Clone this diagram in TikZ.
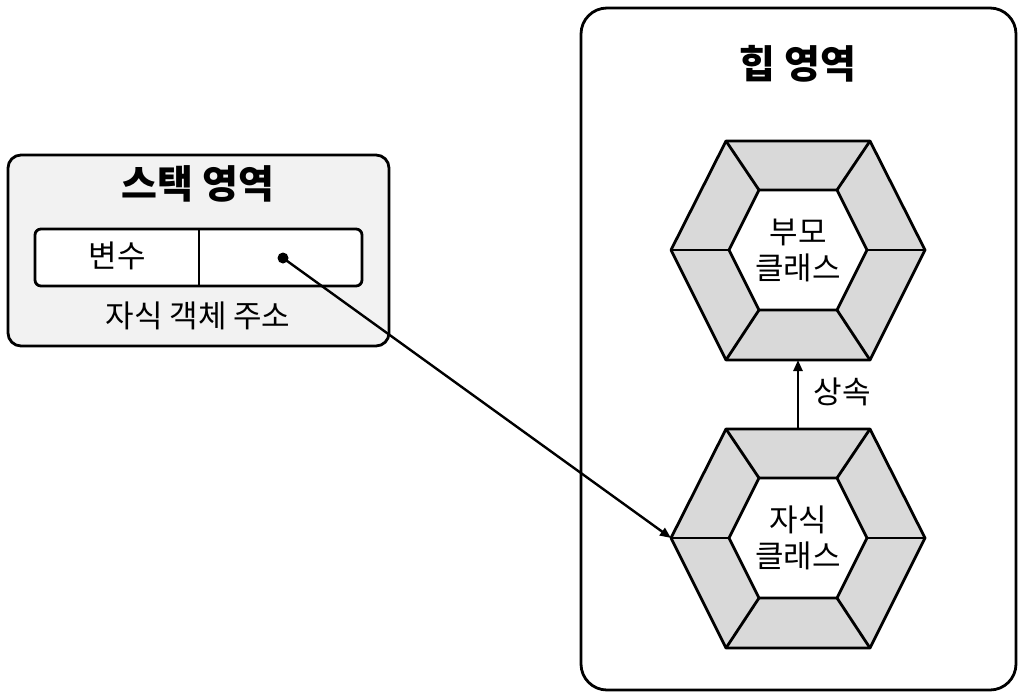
\documentclass[tikz,border=0pt]{standalone}
\usepackage{fontspec}
\setmainfont{Noto Sans CJK KR}
\usetikzlibrary{arrows.meta}
\definecolor{stackfill}{HTML}{F2F2F2}
\definecolor{hexgray}{HTML}{D9D9D9}
\tikzset{
  panel/.style={draw=black, line width=2.8pt},
  hexline/.style={draw=black, line width=2.8pt, line join=round},
  lbl/.style={font=\fontsize{31}{36}\selectfont, align=center},
  ttl/.style={font=\bfseries\fontsize{39}{44}\selectfont},
  conn/.style={line width=2.4pt, -{Triangle[length=11pt,width=9pt]}}
}
\newcommand{\hexclass}[4]{%
  % #1 name, #2 cx, #3 cy, #4 text
  \begin{scope}[shift={(#2,#3)}]
    \coordinate (#1-o1) at (-72,-109);
    \coordinate (#1-o2) at (72,-109);
    \coordinate (#1-o3) at (127,0);
    \coordinate (#1-o4) at (72,110);
    \coordinate (#1-o5) at (-72,110);
    \coordinate (#1-o6) at (-127,0);
    \coordinate (#1-i1) at (-39,-60);
    \coordinate (#1-i2) at (39,-60);
    \coordinate (#1-i3) at (69,0);
    \coordinate (#1-i4) at (39,60);
    \coordinate (#1-i5) at (-39,60);
    \coordinate (#1-i6) at (-69,0);
    \fill[hexgray] (#1-o1)--(#1-o2)--(#1-o3)--(#1-o4)--(#1-o5)--(#1-o6)--cycle;
    \fill[white] (#1-i1)--(#1-i2)--(#1-i3)--(#1-i4)--(#1-i5)--(#1-i6)--cycle;
    \draw[hexline] (#1-o1)--(#1-o2)--(#1-o3)--(#1-o4)--(#1-o5)--(#1-o6)--cycle;
    \draw[hexline] (#1-i1)--(#1-i2)--(#1-i3)--(#1-i4)--(#1-i5)--(#1-i6)--cycle;
    \foreach \k in {1,...,6}{\draw[hexline] (#1-o\k)--(#1-i\k);}
    \node[lbl] (#1) at (0,0) {#4};
  \end{scope}}
\begin{document}
\begin{tikzpicture}[x=1pt,y=-1pt]
\useasboundingbox (0,0) rectangle (1026,697);
\fill[white] (0,0) rectangle (1026,697);
% heap
\draw[panel, fill=white, rounded corners=26pt] (581,8) rectangle (1016,690);
\node[ttl] (heapttl) at (798,64) {힙 영역};
% stack
\draw[panel, fill=stackfill, rounded corners=13pt] (8,155) rectangle (389,346);
\node[ttl] (stackttl) at (198,184) {스택 영역};
\draw[panel, fill=white, rounded corners=6pt] (35,229) rectangle (362,286);
\draw[panel] (199,229) -- (199,286);
\node[lbl] (var) at (117,256) {변수};
\node[lbl] (addr) at (198,316) {자식 객체 주소};
\coordinate (dot) at (283,258);
\fill (dot) circle (5.5pt);
% hexagons
\hexclass{parent}{798}{250}{부모\\클래스}
\hexclass{child}{798}{538}{자식\\클래스}
% connectors
\coordinate (childtop) at (798,429);
\coordinate (parentbot) at (798,360);
\draw[conn] (childtop) -- (parentbot);
\node[lbl, anchor=west] (inh) at (810,392) {상속};
\draw[conn] (dot) -- (child-o6);
\end{tikzpicture}
\end{document}
